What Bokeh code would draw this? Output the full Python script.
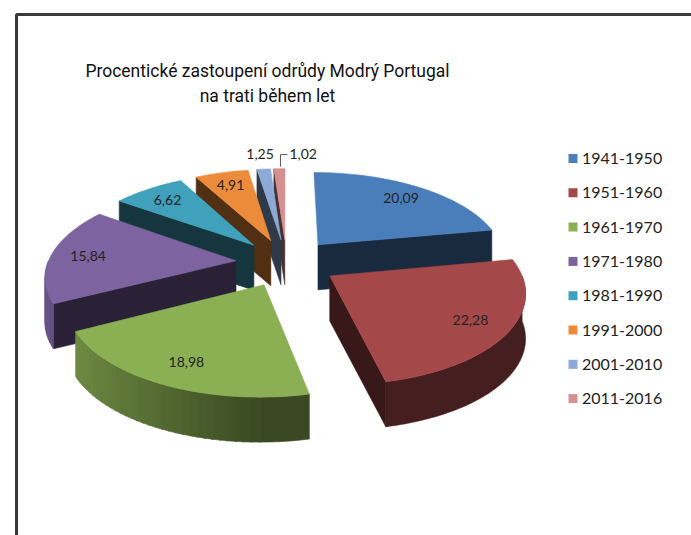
import numpy as np
from bokeh.plotting import figure
from bokeh.models import Range1d
from bokeh.core.properties import value
from bokeh.embed import file_html
from bokeh.resources import INLINE

# ---------------- data ----------------
categories = ["1941-1950", "1951-1960", "1961-1970", "1971-1980",
              "1981-1990", "1991-2000", "2001-2010", "2011-2016"]
shares = [20.09, 22.28, 18.98, 15.84, 6.62, 4.91, 1.25, 1.02]
share_labels = ["20,09", "22,28", "18,98", "15,84", "6,62", "4,91", "1,25", "1,02"]
top_colors = ["#4A7EBB", "#A5484A", "#8BB054", "#7D63A0",
              "#3FA1BB", "#EC8B3A", "#8DA9D5", "#D69092"]
title_lines = ["Procentické zastoupení odrůdy Modrý Portugal", "na trati během let"]

# ---------------- layout (page pixels) ----------------
W, H = 691, 535
OFF = 0.0                  # page offset of the figure
CX, CY = 286.0, 262.0      # pie centre
RX, RY = 188.0, 88.0       # radii of the tilted disc
PERSP = 0.15               # perspective strength
DEPTH = 45.0               # thickness of the pie
EXPL = 0.27                # explosion (fraction of radius)
LABEL_R = 0.80


def to_data(px, py):
    return np.asarray(px, dtype=float) - OFF, (H + OFF) - np.asarray(py, dtype=float)


def proj(X, Z, h=0.0):
    X = np.asarray(X, dtype=float)
    Z = np.asarray(Z, dtype=float)
    s = 1.0 / (1.0 - PERSP * Z)
    return CX + X * RX * s, CY + Z * RY * s + h


def shade(hex_color, f):
    hc = hex_color.lstrip("#")
    r, g, b = (int(hc[i:i + 2], 16) for i in (0, 2, 4))
    return "#%02x%02x%02x" % (int(r * f), int(g * f), int(b * f))


def wall(ox, oz, e0, e1):
    tt = np.radians(np.linspace(e0, e1, max(3, int(e1 - e0) + 2)))
    px, py = proj(ox + np.sin(tt), oz - np.cos(tt))
    return np.concatenate([px, px[::-1]]), np.concatenate([py, (py + DEPTH)[::-1]])


p = figure(width=W, height=H, x_range=Range1d(0, W), y_range=Range1d(0, H),
           output_backend="svg", toolbar_location=None, min_border=0)
p.axis.visible = False
p.grid.visible = False
p.outline_line_color = None
p.background_fill_color = "white"

# frame of the chart (left and top edge visible)
fx, fy = to_data([16, 16, 700], [545, 14, 14])
p.line(fx, fy, line_color="#3a3a3a", line_width=3)

total = float(sum(shares))
fracs = np.array(shares) / total
ends = np.cumsum(fracs) * 360.0
starts = np.concatenate([[0.0], ends[:-1]])

slices = []
for i, (a0, a1) in enumerate(zip(starts, ends)):
    b = np.radians((a0 + a1) / 2)
    ox, oz = EXPL * np.sin(b), -EXPL * np.cos(b)
    slices.append((a0, a1, ox, oz))

# painter's order: back slices first
draw_order = sorted(range(len(shares)), key=lambda k: slices[k][3])

xs_all, ys_all, cs_all = [], [], []
for k in draw_order:
    a0, a1, ox, oz = slices[k]
    col = top_colors[k]
    faces = []
    # radial faces (start / end) when turned towards the viewer
    for a, visible in ((a0, np.sin(np.radians(a0)) < -1e-6), (a1, np.sin(np.radians(a1)) > 1e-6)):
        if visible:
            t = np.radians(a)
            X = [ox, ox + np.sin(t), ox + np.sin(t), ox]
            Z = [oz, oz - np.cos(t), oz - np.cos(t), oz]
            px, py = proj(X, Z)
            py = py + np.array([0, 0, DEPTH, DEPTH])
            faces.append((px, py, shade(col, 0.34)))
    # curved outer wall: right half in shadow (one piece), left half lit (shaded strips)
    d0, d1 = max(a0, 90.0), min(a1, 180.0)
    if d1 > d0:
        qx, qy = wall(ox, oz, d0, d1)
        faces.append((qx, qy, shade(col, 0.42)))
    l0, l1 = max(a0, 180.0), min(a1, 270.0)
    if l1 > l0:
        n = max(2, int((l1 - l0) / 2.0) + 1)
        edges = np.linspace(l0, l1, n + 1)
        for e0, e1 in zip(edges[:-1], edges[1:]):
            qx, qy = wall(ox, oz, e0, min(e1 + 0.4, l1))
            m = np.radians((e0 + e1) / 2)
            f = 0.42 + 0.42 * max(0.0, -np.sin(m))
            faces.append((qx, qy, shade(col, f)))
    # top face
    tt = np.radians(np.linspace(a0, a1, max(3, int(a1 - a0) + 2)))
    X = np.concatenate([[ox], ox + np.sin(tt)])
    Z = np.concatenate([[oz], oz - np.cos(tt)])
    px, py = proj(X, Z)
    faces.append((px, py, col))
    for px, py, c in faces:
        dx, dy = to_data(px, py)
        xs_all.append(list(dx))
        ys_all.append(list(dy))
        cs_all.append(c)

p.patches(xs_all, ys_all, fill_color=cs_all, line_color=cs_all, line_width=0.6)

# ---------------- data labels ----------------
LABEL_FONT = dict(text_font=value("Lato"), text_font_size="14px", text_color="#222222")
lab_x, lab_y, lab_t = [], [], []
small_x, small_y, small_t = [], [], []
for k, (a0, a1, ox, oz) in enumerate(slices):
    b = np.radians((a0 + a1) / 2)
    if fracs[k] > 0.03:
        px, py = proj(ox + LABEL_R * np.sin(b), oz - LABEL_R * np.cos(b))
        dx, dy = to_data(px, py)
        lab_x.append(float(dx)); lab_y.append(float(dy)); lab_t.append(share_labels[k])
    else:
        px, py = proj(ox + 1.25 * np.sin(b), oz - 1.25 * np.cos(b))
        small_x.append(float(px)); small_y.append(float(py)); small_t.append(share_labels[k])

p.text(lab_x, lab_y, text=lab_t, text_align="center", text_baseline="middle", **LABEL_FONT)

# outside labels for the two thin slices
a0, a1, ox, oz = slices[-1]
b = np.radians((a0 + a1) / 2)
tipx, tipy = proj(ox + np.sin(b), oz - np.cos(b))
lx, ly = to_data([small_x[0]], [small_y[0]])
p.text(lx, ly, text=[small_t[0]], text_align="center", text_baseline="middle", **LABEL_FONT)
lead_px = [float(tipx) + 1, float(tipx) + 1, float(tipx) + 8]
lead_py = [float(tipy) - 2, small_y[1] + 1, small_y[1] + 1]
ldx, ldy = to_data(lead_px, lead_py)
p.line(ldx, ldy, line_color="#555555", line_width=1)
tx, ty = to_data([float(tipx) + 10], [small_y[1]])
p.text(tx, ty, text=[small_t[1]], text_align="left", text_baseline="middle", **LABEL_FONT)

# ---------------- legend ----------------
LEG_X, LEG_Y0, LEG_DY = 572.5, 158.0, 34.3
leg_py = LEG_Y0 + LEG_DY * np.arange(len(categories))
sqx, sqy = to_data(np.full(len(categories), LEG_X), leg_py)
p.rect(sqx, sqy, width=9, height=9, fill_color=top_colors, line_color=None)
tlx, tly = to_data(np.full(len(categories), LEG_X + 9), leg_py)
p.text(tlx, tly, text=categories, text_align="left", text_baseline="middle",
       text_font=value("Lato"), text_font_size="16px", text_color="#222222")

# ---------------- title ----------------
ttx, tty = to_data([267, 267], [70, 95])
p.text(ttx, tty, text=title_lines, text_align="center", text_baseline="middle",
       text_font=value("Roboto"), text_font_size="17.5px", text_color="#111111")

open("out.html", "w").write(file_html(p, INLINE))
